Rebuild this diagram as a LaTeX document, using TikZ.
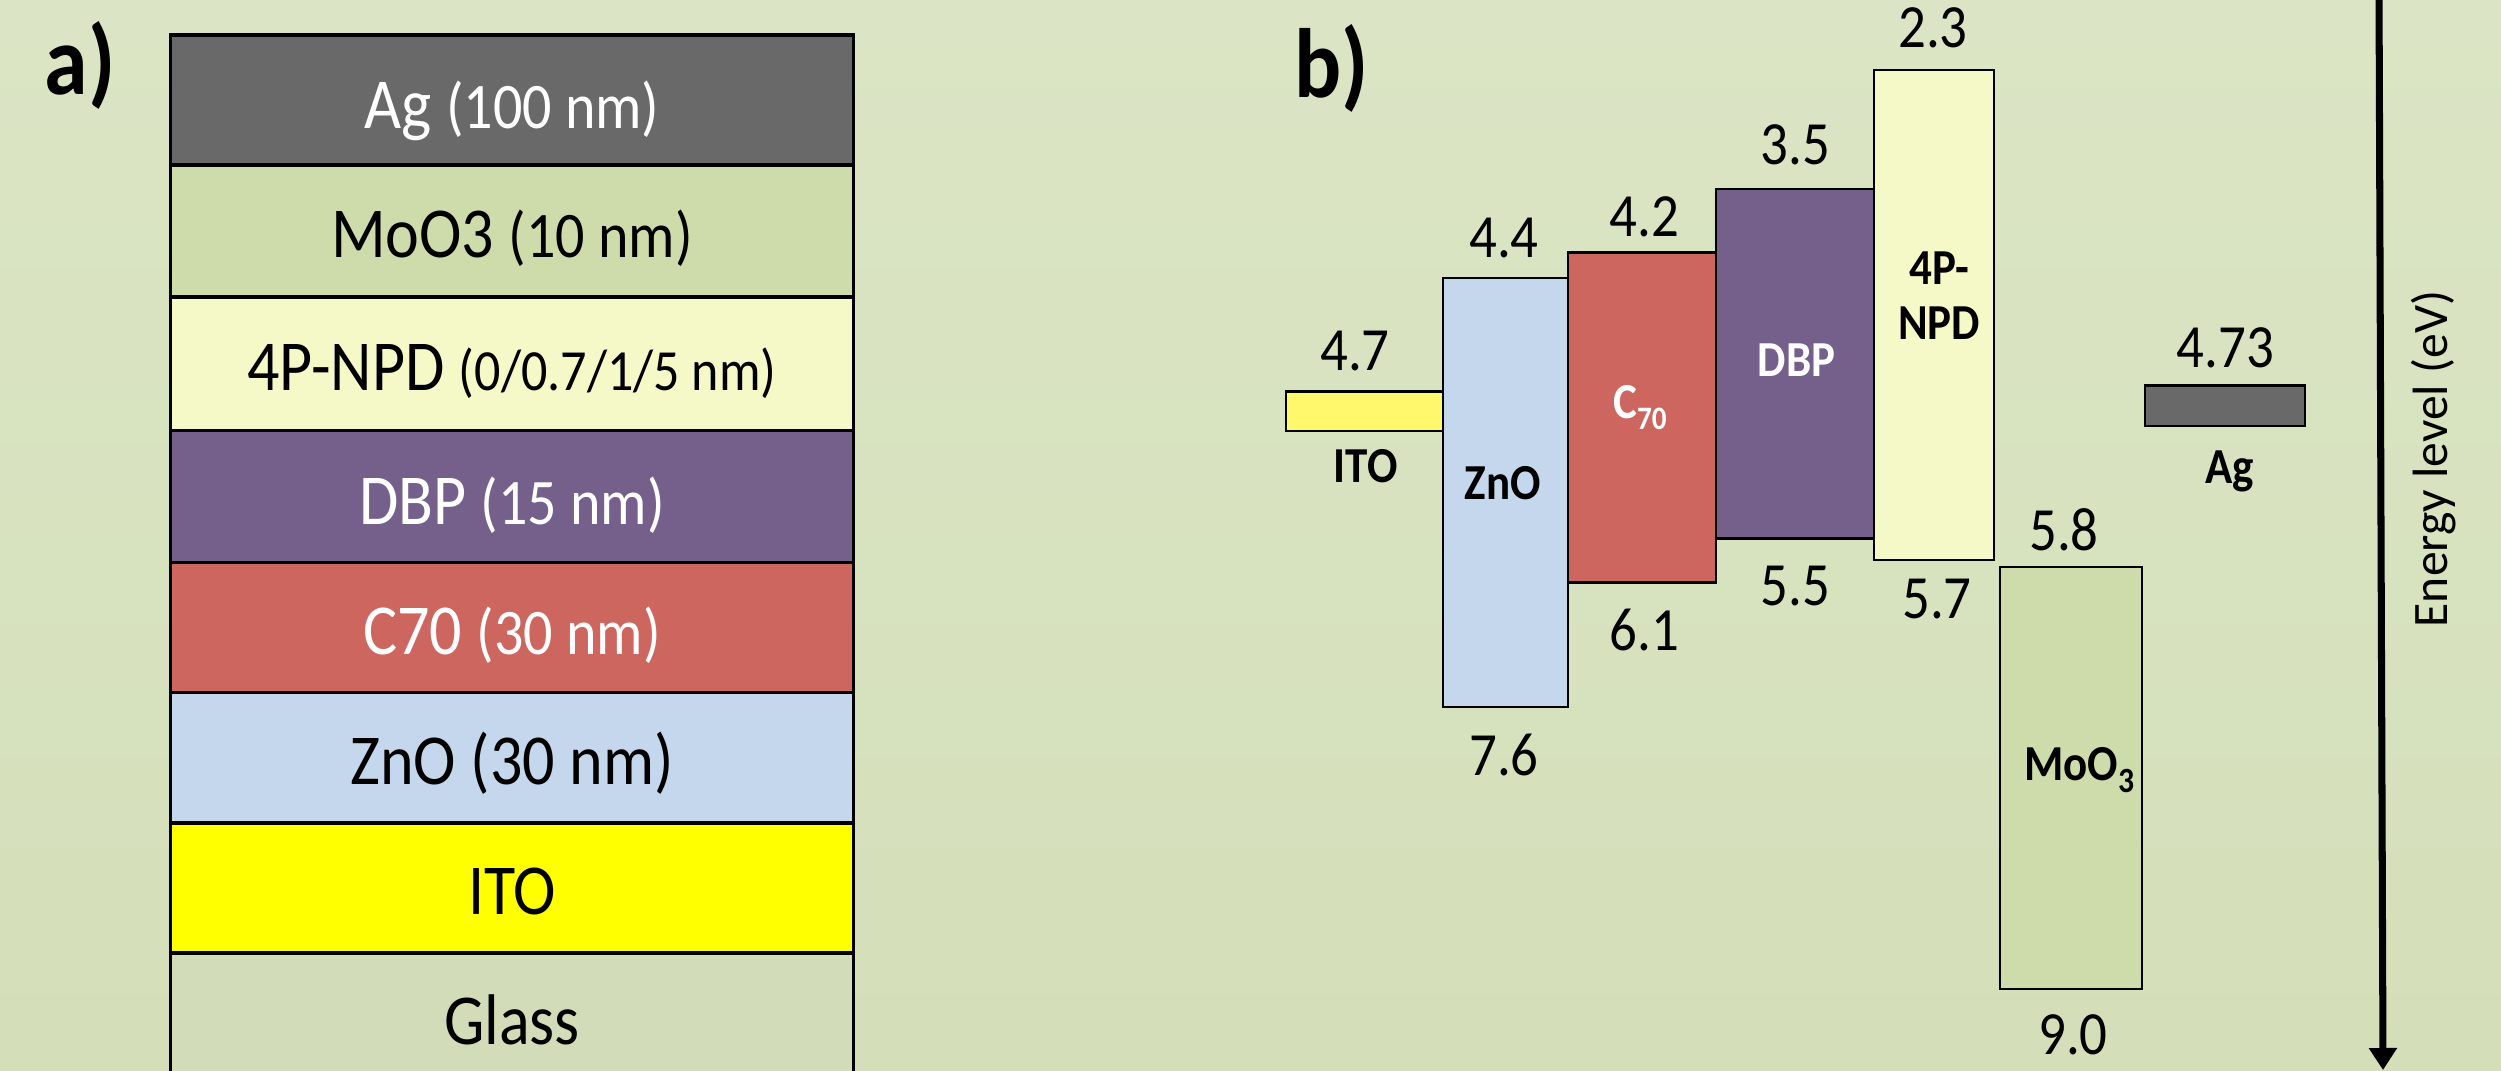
\documentclass[tikz,border=0pt]{standalone}
\usepackage{fontspec}
\setmainfont{Carlito}
\usepackage{graphicx}
\usetikzlibrary{arrows.meta}
\definecolor{bgtop}{RGB}{219,229,197}
\definecolor{bgbot}{RGB}{212,223,185}
\definecolor{cAg}{RGB}{105,105,105}
\definecolor{cMoO}{RGB}{205,220,170}
\definecolor{cNPD}{RGB}{245,249,200}
\definecolor{cDBP}{RGB}{117,96,140}
\definecolor{cCs}{RGB}{206,102,96}
\definecolor{cZnO}{RGB}{196,215,236}
\definecolor{cITO}{RGB}{255,255,0}
\definecolor{cITOb}{RGB}{255,248,108}
\definecolor{cGlass}{RGB}{211,220,185}
\newcommand{\vs}[1]{\scalebox{1}[1.12]{#1}}
\newcommand{\psz}{\fontsize{16.5}{18}\selectfont}
\tikzset{
  lay/.style={draw=black, line width=1pt},
  band/.style={draw=black, line width=0.75pt},
  atxt/.style={anchor=base, inner sep=0pt, font=\fontsize{18.2}{20}\selectfont},
  num/.style={anchor=base, inner sep=0pt, font=\fontsize{15.6}{18}\selectfont},
  blab/.style={anchor=base, inner sep=0pt, font=\bfseries\fontsize{12.8}{15}\selectfont},
  panel/.style={anchor=base, inner sep=0pt, font=\bfseries\fontsize{25}{28}\selectfont},
}
\begin{document}
\begin{tikzpicture}[x=0.01cm,y=-0.01cm]
\clip (0,0) rectangle (2501,1070);
\shade[top color=bgtop, bottom color=bgbot] (0,0) rectangle (2501,1070);

% ---------- panel a ----------
\node[panel] (la) at (80,95) {\vs{a)}};
\path[lay, fill=cAg]    (170.5,35)    rectangle (853.5,165);
\path[lay, fill=cMoO]   (170.5,165)   rectangle (853.5,297);
\path[lay, fill=cNPD]   (170.5,297)   rectangle (853.5,430.5);
\path[lay, fill=cDBP]   (170.5,430.5) rectangle (853.5,562.7);
\path[lay, fill=cCs]    (170.5,562.7) rectangle (853.5,692.6);
\path[lay, fill=cZnO]   (170.5,692.6) rectangle (853.5,822.8);
\path[lay, fill=cITO]   (170.5,822.8) rectangle (853.5,953);
\path[lay, fill=cGlass] (170.5,953)   rectangle (853.5,1090);

\node[atxt, text=white] (tAg)  at (512,129)   {\vs{Ag {\psz(100 nm)}}};
\node[atxt]             (tMoO) at (512,258)   {\vs{MoO3 {\psz(10 nm)}}};
\node[atxt]             (tNPD) at (512,390.5) {\vs{4P-NPD {\fontsize{14.8}{17}\selectfont(0/0.7/1/5 nm)}}};
\node[atxt, text=white] (tDBP) at (512,524.6) {\vs{DBP {\psz(15 nm)}}};
\node[atxt, text=white] (tCs)  at (512,654.6) {\vs{C70 {\psz(30 nm)}}};
\node[atxt]             (tZnO) at (512,784.6) {\vs{ZnO (30 nm)}};
\node[atxt]             (tITO) at (512,914.6) {\vs{ITO}};
\node[atxt]             (tGl)  at (512,1044)  {\vs{Glass}};

% ---------- panel b ----------
\node[panel] (lb) at (1332,98) {\vs{b)}};
\path[band, fill=cITOb] (1286,391.5) rectangle (1443,431);
\path[band, fill=cZnO]  (1443,278)   rectangle (1568,707);
\path[band, fill=cCs]   (1568,252.4) rectangle (1716,582.7);
\path[band, fill=cDBP]  (1716,189)   rectangle (1874,538.6);
\path[band, fill=cNPD]  (1874,70)    rectangle (1994,560);
\path[band, fill=cMoO]  (2000,567)   rectangle (2142,989);
\path[band, fill=cAg]   (2145,385.5) rectangle (2305,426);

\node[num] (n23)  at (1933,48)    {\vs{2.3}};
\node[num] (n35)  at (1795.5,165) {\vs{3.5}};
\node[num] (n44)  at (1504,258)   {\vs{4.4}};
\node[num] (n42)  at (1644.6,236.7) {\vs{4.2}};
\node[num] (n47)  at (1355,370)   {\vs{4.7}};
\node[num] (n473) at (2225.5,367) {\vs{4.73}};
\node[num] (n58)  at (2064,550.6) {\vs{5.8}};
\node[num] (n55)  at (1795.5,605.7) {\vs{5.5}};
\node[num] (n57)  at (1937,618.8) {\vs{5.7}};
\node[num] (n61)  at (1644.6,650.4) {\vs{6.1}};
\node[num] (n76)  at (1504,775)   {\vs{7.6}};
\node[num] (n90)  at (2073,1054.6) {\vs{9.0}};

\node[blab] (bITO) at (1365.7,482.6) {\vs{ITO}};
\node[blab] (bZnO) at (1503,499.5)   {\vs{ZnO}};
\node[blab, text=white] (bCs) at (1640,418) {\vs{C\raisebox{-0.1cm}{\fontsize{8.3}{10}\selectfont 70}}};
\node[blab, text=white] (bDBP) at (1796.5,376) {\vs{DBP}};
\node[blab] (bNPDa) at (1939,284.8) {\vs{4P-}};
\node[blab] (bNPDb) at (1939,339.5) {\vs{NPD}};
\node[blab] (bAg)  at (2229.6,483)   {\vs{Ag}};
\node[blab] (bMoO) at (2079,780.4)   {\vs{MoO\raisebox{-0.11cm}{\fontsize{9}{10}\selectfont 3}}};

% energy axis
\coordinate (aTop) at (2379,-5);
\coordinate (aBot) at (2383,1070);
\draw[line width=2pt, -{Triangle[width=0.27cm,length=0.22cm]}] (aTop) -- (aBot);
\node[rotate=90, inner sep=0pt, font=\fontsize{14.1}{16}\selectfont] (eAx) at (2434,459) {Energy level (eV)};
\end{tikzpicture}
\end{document}
